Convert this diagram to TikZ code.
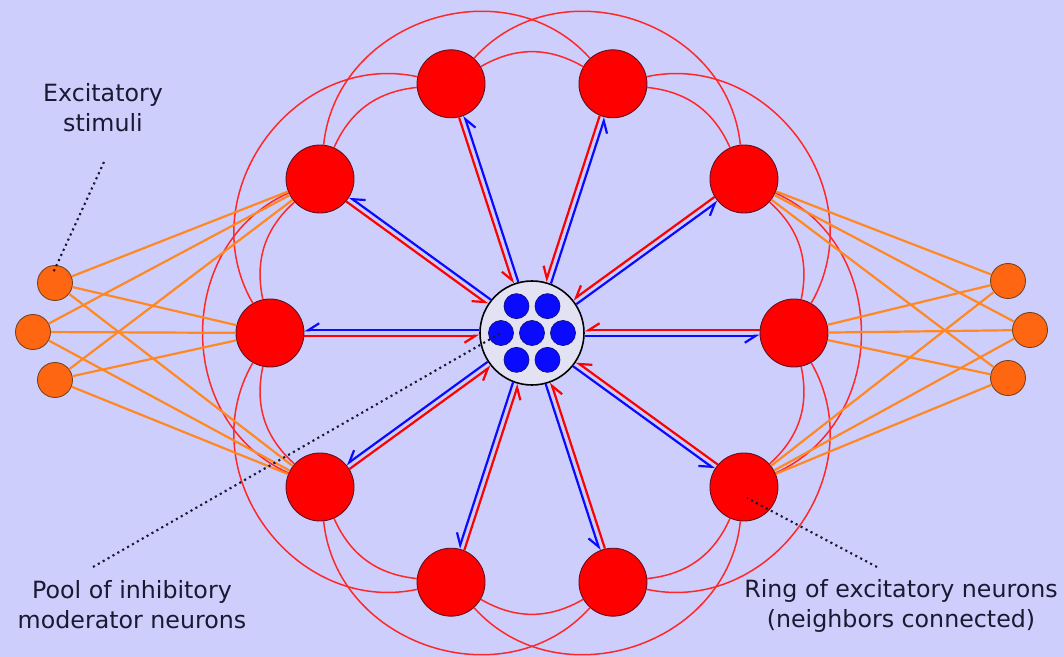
\documentclass[tikz,border=0pt]{standalone}
\usepackage{fontspec}
\setmainfont{DejaVu Sans}
\definecolor{bgviolet}{RGB}{206, 206, 252}
\definecolor{ringred}{RGB}{255, 0, 0}
\definecolor{arcred}{RGB}{255, 40, 40}
\definecolor{poolblue}{RGB}{10, 10, 255}
\definecolor{stimorange}{RGB}{255, 102, 17}
\definecolor{wireorange}{RGB}{255, 136, 34}
\definecolor{poolgrey}{RGB}{226, 226, 242}
\definecolor{inkdark}{RGB}{25, 25, 50}
\usepackage{tikz}
\usetikzlibrary{arrows.meta, positioning, calc}

\begin{document}
\begin{tikzpicture}[
  neuron/.style={circle, draw=inkdark!70!red, fill=ringred, minimum size=1.36cm, inner sep=0pt, line width=0.5pt},
  stim/.style={circle, draw=inkdark!60!orange, fill=stimorange, minimum size=0.7cm, inner sep=0pt, line width=0.5pt},
  inhib/.style={circle, draw=inkdark!60!blue, fill=poolblue, minimum size=0.5cm, inner sep=0pt, line width=0.4pt},
  pool/.style={circle, draw=black, fill=poolgrey, minimum size=2.08cm, inner sep=0pt, line width=0.9pt},
  ringarc/.style={arcred, line width=0.85pt},
  wire/.style={wireorange, line width=1.25pt},
  fwd/.style={poolblue, line width=1.25pt, -{Straight Barb[right, length=0.22cm, width=0.28cm]}},
  bwd/.style={ringred, line width=1.25pt, -{Straight Barb[right, length=0.22cm, width=0.28cm]}},
  pointer/.style={inkdark, line width=1.2pt, dotted},
  note/.style={text=inkdark, align=center, inner sep=0pt, font=\fontsize{13.5}{17}\selectfont}
]
  \useasboundingbox (-10.64, -6.48) rectangle (10.64, 6.66);
  \fill[bgviolet] (-10.64, -6.48) rectangle (10.64, 6.66);

  % inhibitory pool
  \node[pool] (pool) at (0, 0) {};
  \node[inhib] (b0) at (0, 0) {};
  \foreach \a [count=\i] in {0, 60, ..., 300}
    \node[inhib] (b\i) at (\a:0.62) {};

  % excitatory ring
  \foreach \k in {0, ..., 9}
    \node[neuron] (n\k) at ({36*\k}:5.24) {};

  \foreach \k [evaluate=\k as \j using {int(mod(\k+1, 10))},
               evaluate=\k as \m using {int(mod(\k+2, 10))}] in {0, ..., 9} {
    \draw[ringarc] (n\k) to[bend right=30] (n\j);
    \draw[ringarc] (n\k) to[bend right=66, looseness=1.15] (n\m);
  }

  \foreach \k [evaluate=\k as \a using {int(36*\k)},
               evaluate=\k as \b using {int(mod(36*\k+180, 360))}] in {0, ..., 9} {
    \draw[fwd] ([shift={(\a-90:0.055)}]pool.\a) -- ([shift={(\a-90:0.055)}]n\k.\b);
    \draw[bwd] ([shift={(\a+90:0.055)}]n\k.\b) -- ([shift={(\a+90:0.055)}]pool.\a);
  }

  % stimuli
  \node[stim] (s1) at (-9.54, 1.0) {};
  \node[stim] (s2) at (-9.98, 0.02) {};
  \node[stim] (s3) at (-9.54, -0.94) {};
  \node[stim] (t1) at (9.52, 1.04) {};
  \node[stim] (t2) at (9.96, 0.06) {};
  \node[stim] (t3) at (9.52, -0.9) {};

  \foreach \s in {s1, s2, s3}
    \foreach \n in {n4, n5, n6}
      \draw[wire] (\s) -- (\n);
  \foreach \s in {t1, t2, t3}
    \foreach \n in {n1, n0, n9}
      \draw[wire] (\s) -- (\n);

  % annotations
  \node[note] (exc) at (-8.58, 4.51) {Excitatory\\stimuli};
  \node[note] (inh) at (-8.0, -5.44) {Pool of inhibitory\\moderator neurons};
  \node[note] (rng) at (7.38, -5.46) {Ring of excitatory neurons\\(neighbors connected)};

  \coordinate (excfoot) at (-8.56, 3.42);
  \coordinate (inhfoot) at (-8.78, -4.68);
  \coordinate (rngfoot) at (6.9, -4.68);
  \draw[pointer] (excfoot) -- ([shift={(-0.04, 0.2)}]s1.center);
  \draw[pointer] (inhfoot) -- (b4.center);
  \draw[pointer] (rngfoot) -- ([shift={(0.06, -0.22)}]n9.center);
\end{tikzpicture}
\end{document}
